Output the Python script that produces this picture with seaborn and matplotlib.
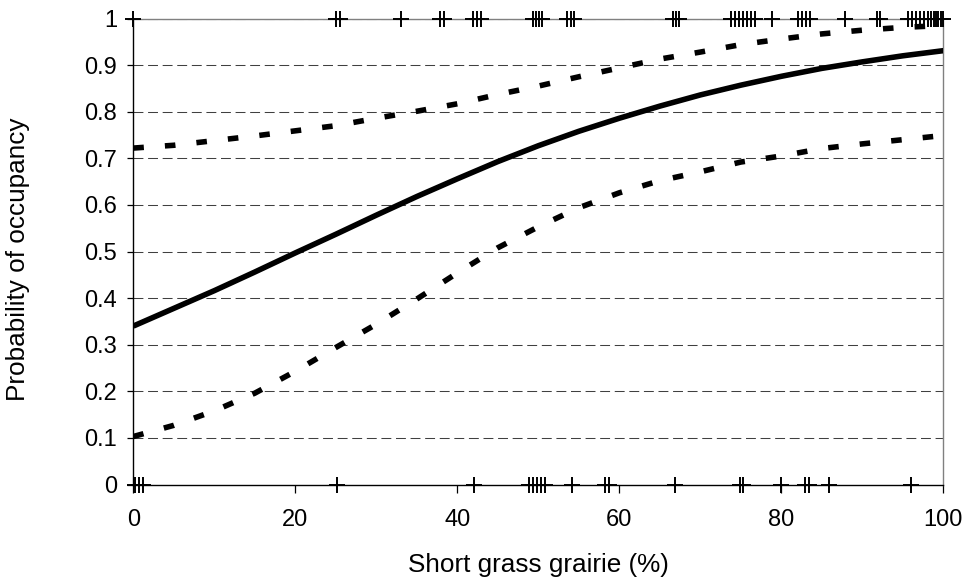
import numpy as np
import pandas as pd
import matplotlib
matplotlib.use("Agg")
import matplotlib.pyplot as plt
import seaborn as sns

# ---- data ----
x_vals = [0, 5, 10, 15, 20, 25, 30, 35, 40, 45, 50, 55, 60, 65, 70, 75, 80, 85, 90, 95, 100]
p_fit = [0.340, 0.378, 0.416, 0.456, 0.497, 0.537, 0.578, 0.618, 0.656, 0.693, 0.727,
         0.758, 0.786, 0.812, 0.836, 0.857, 0.876, 0.893, 0.907, 0.920, 0.931]
p_upper = [0.722, 0.728, 0.738, 0.748, 0.759, 0.770, 0.786, 0.801, 0.817, 0.837, 0.855,
           0.875, 0.894, 0.913, 0.928, 0.944, 0.956, 0.967, 0.975, 0.981, 0.985]
p_lower = [0.103, 0.127, 0.158, 0.196, 0.243, 0.294, 0.344, 0.398, 0.454, 0.508, 0.553,
           0.594, 0.626, 0.652, 0.671, 0.692, 0.705, 0.721, 0.731, 0.740, 0.749]

# observed presences (y=1) and absences (y=0)
present_x = [0.0, 25.0, 25.5, 33.1, 37.9, 38.4, 41.9, 42.4, 42.9,
             49.3, 49.7, 50.1, 50.5, 53.6, 54.0, 54.4, 66.6, 67.0, 67.4,
             73.8, 74.3, 74.8, 75.3, 75.8, 76.3, 76.8, 78.9,
             82.0, 82.5, 83.0, 83.5, 87.9, 91.8, 92.2,
             95.6, 96.1, 96.6, 97.1, 97.6, 98.1, 98.5, 98.8, 99.1, 99.4, 99.7, 100.0]
absent_x = [0.2, 0.7, 1.2, 25.1, 42.0, 48.9, 49.4, 49.9, 50.3, 50.8, 54.1, 58.2, 58.7,
            66.9, 74.9, 75.3, 80.0, 82.9, 83.4, 85.9, 96.0]

x_ticks = [0, 20, 40, 60, 80, 100]
y_ticks = [0, 0.1, 0.2, 0.3, 0.4, 0.5, 0.6, 0.7, 0.8, 0.9, 1.0]
y_ticklabels = ["0", "0.1", "0.2", "0.3", "0.4", "0.5", "0.6", "0.7", "0.8", "0.9", "1"]

df = pd.DataFrame({"x": x_vals, "fit": p_fit, "upper": p_upper, "lower": p_lower})
obs = pd.DataFrame({"x": present_x + absent_x,
                    "y": [1.0] * len(present_x) + [0.0] * len(absent_x)})

sns.set_style("white")
plt.rcParams["font.family"] = ["Liberation Sans", "DejaVu Sans"]
plt.rcParams["text.color"] = "black"
plt.rcParams["axes.labelcolor"] = "black"
plt.rcParams["xtick.color"] = "black"
plt.rcParams["ytick.color"] = "black"

fig = plt.figure(figsize=(9.66, 5.79), dpi=100)
ax = fig.add_axes([0.138, 0.1632, 0.8385, 0.8048])

# grid lines
for yv in y_ticks[1:]:
    ax.axhline(yv, color="#404040", lw=0.75, linestyle=(0, (9.5, 4.5)), zorder=1)

sns.lineplot(data=df, x="x", y="fit", ax=ax, color="black", lw=4.0,
             solid_capstyle="butt", zorder=3)
sns.lineplot(data=df, x="x", y="upper", ax=ax, color="black", lw=4.0,
             linestyle=(0, (1.9, 3.8)), dash_capstyle="butt", zorder=3)
sns.lineplot(data=df, x="x", y="lower", ax=ax, color="black", lw=4.0,
             linestyle=(0, (1.9, 3.8)), dash_capstyle="butt", zorder=3)

ax.plot(obs["x"], obs["y"], linestyle="none", marker="+", markersize=11,
        markeredgewidth=1.4, color="black", clip_on=False, zorder=4)

ax.set_xlim(0, 100)
ax.set_ylim(0, 1)
ax.set_xticks(x_ticks)
ax.set_xticklabels([str(v) for v in x_ticks])
ax.set_yticks(y_ticks)
ax.set_yticklabels(y_ticklabels)

ax.tick_params(axis="y", direction="out", length=4.5, width=0.9, color="black",
               labelcolor="black", labelsize=17, pad=7, left=True)
ax.tick_params(axis="x", direction="out", length=5.5, width=0.9, color="black",
               labelcolor="black", labelsize=17, pad=12, bottom=True)

for side in ["left", "bottom"]:
    ax.spines[side].set_color("black")
    ax.spines[side].set_linewidth(1.0)
for side in ["top", "right"]:
    ax.spines[side].set_color("#808080")
    ax.spines[side].set_linewidth(1.0)
    ax.spines[side].set_visible(True)

ax.set_xlabel("Short grass grairie (%)", fontsize=18.8, color="black")
ax.set_ylabel("Probability of occupancy", fontsize=18.8, color="black")
ax.xaxis.set_label_coords(0.5, -0.146)
ax.yaxis.set_label_coords(-0.128, 0.484)

fig.savefig("out.png", dpi=100, facecolor="white")
